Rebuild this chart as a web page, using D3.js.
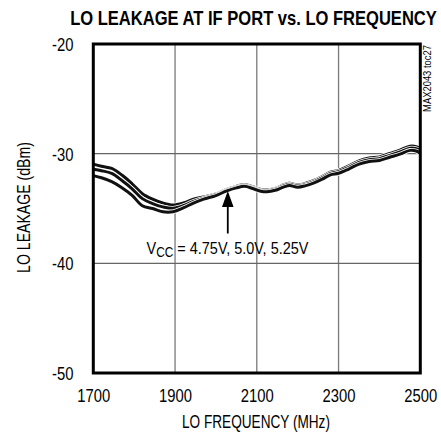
<!DOCTYPE html>
<html>
<head>
<meta charset="utf-8">
<script src="https://cdn.jsdelivr.net/npm/d3@7"></script>
<style>
  html, body { margin: 0; padding: 0; background: #fff; }
  svg { display: block; }
  text { font-family: "Liberation Sans", Arial, sans-serif; fill: #000; }
</style>
</head>
<body>
<svg id="chart" width="441" height="434"></svg>
<script>
// ---- data ----
const freq = [1700,1720,1745,1770,1795,1820,1845,1870,1895,1920,1945,1970,2000,2025,2050,2070,2090,2110,2125,2145,2165,2180,2200,2220,2240,2260,2280,2300,2325,2350,2375,2400,2425,2450,2475,2490,2500];
const vcc475 = [-30.95,-31.15,-31.35,-31.95,-32.75,-33.65,-34.15,-34.5,-34.68,-34.5,-34.15,-33.95,-33.68,-33.28,-32.98,-32.82,-33.02,-33.27,-33.32,-33.17,-32.86,-32.7,-32.85,-32.7,-32.44,-32.08,-31.68,-31.52,-31.11,-30.66,-30.4,-30.29,-29.98,-29.67,-29.32,-29.36,-29.55];
const vcc500 = [-31.42,-31.55,-31.8,-32.45,-33.2,-34.1,-34.55,-34.85,-34.98,-34.75,-34.35,-34.05,-33.75,-33.35,-33.05,-32.9,-33.1,-33.35,-33.4,-33.25,-32.95,-32.8,-32.95,-32.8,-32.55,-32.2,-31.8,-31.65,-31.25,-30.8,-30.55,-30.45,-30.15,-29.85,-29.5,-29.55,-29.75];
const vcc525 = [-32.0,-32.2,-32.55,-33.1,-33.8,-34.75,-35.0,-35.3,-35.3,-34.95,-34.5,-34.15,-33.82,-33.42,-33.12,-32.98,-33.18,-33.43,-33.48,-33.34,-33.05,-32.9,-33.06,-32.91,-32.67,-32.33,-31.93,-31.79,-31.4,-30.95,-30.71,-30.62,-30.33,-30.04,-29.7,-29.76,-29.96];
const series = [vcc475, vcc500, vcc525];
const xTicks = [1700, 1900, 2100, 2300, 2500];
const yTicks = [-20, -30, -40, -50];
const titleText = "LO LEAKAGE AT IF PORT vs. LO FREQUENCY";
const xLabel = "LO FREQUENCY (MHz)";
const yLabel = "LO LEAKAGE (dBm)";
const noteText = "MAX2043 toc27";

// ---- layout ----
const svg = d3.select("#chart");
const x = d3.scaleLinear().domain([1700, 2500]).range([93.3, 420.3]);
const y = d3.scaleLinear().domain([-50, -20]).range([373, 44]);
const NARROW = 0.8;

// fit a text horizontally to a width (condensed look), placed at (tx,ty) with optional rotation
function place(sel, tx, ty, width, rot) {
  sel.attr("x", 0).attr("y", 0);
  const len = sel.node().getComputedTextLength();
  const s = width ? width / len : NARROW;
  sel.attr("transform", `translate(${tx},${ty})` + (rot ? ` rotate(${rot})` : "") + ` scale(${s},1)`);
}

// grid
const grid = svg.append("g");
grid.selectAll("line.v").data(xTicks.slice(1, -1)).enter().append("line")
  .attr("x1", d => x(d)).attr("x2", d => x(d))
  .attr("y1", y(-20)).attr("y2", y(-50))
  .attr("stroke", "#7a7a7a").attr("stroke-width", 1.3);
grid.selectAll("line.h").data(yTicks.slice(1, -1)).enter().append("line")
  .attr("x1", x(1700)).attr("x2", x(2500))
  .attr("y1", d => y(d)).attr("y2", d => y(d))
  .attr("stroke", "#666").attr("stroke-width", 1.3);

// curves
const line = d3.line()
  .x((d, i) => x(freq[i]))
  .y(d => y(d))
  .curve(d3.curveCatmullRom.alpha(0.5));
const cg = svg.append("g");
series.forEach(s => {
  cg.append("path").attr("d", line(s)).attr("fill", "none")
    .attr("stroke", "#fff").attr("stroke-width", 4.6).attr("stroke-linejoin", "round");
  cg.append("path").attr("d", line(s)).attr("fill", "none")
    .attr("stroke", "#111").attr("stroke-width", 3).attr("stroke-linejoin", "round");
});

// frame
svg.append("rect")
  .attr("x", x(1700)).attr("y", y(-20))
  .attr("width", x(2500) - x(1700)).attr("height", y(-50) - y(-20))
  .attr("fill", "none").attr("stroke", "#000").attr("stroke-width", 3);

// axes (labels only, using d3 axes)
const xAxis = d3.axisBottom(x).tickValues(xTicks).tickSize(0).tickPadding(0).tickFormat(d => String(d));
const gx = svg.append("g").attr("transform", `translate(0, ${y(-50)})`).call(xAxis);
gx.select(".domain").remove();
gx.selectAll("text").attr("font-size", 18.5).attr("dy", null).attr("y", 0).attr("x", 0)
  .attr("transform", `translate(0,28.7) scale(${NARROW},1)`).style("font-family", null);

const yAxis = d3.axisLeft(y).tickValues(yTicks).tickSize(0).tickPadding(0).tickFormat(d => String(d));
const gy = svg.append("g").attr("transform", `translate(73.5, 0)`).call(yAxis);
gy.select(".domain").remove();
gy.selectAll("text").attr("font-size", 18.5).attr("dy", "0.36em").attr("x", 0)
  .attr("transform", `scale(${NARROW},1)`).style("font-family", null);

// title
place(svg.append("text").attr("text-anchor", "middle")
  .attr("font-size", 21).attr("font-weight", "bold").text(titleText), 253.5, 25, 367);

// axis titles
place(svg.append("text").attr("text-anchor", "middle").attr("font-size", 18.5).text(xLabel), 256, 428.3, 148);
place(svg.append("text").attr("text-anchor", "middle").attr("font-size", 17.5).text(yLabel), 29.5, 207.5, 131, -90);

// side note
place(svg.append("text").attr("text-anchor", "middle").attr("font-size", 11).attr("fill", "#333").text(noteText), 431, 78.5, 67, -90);

// annotation arrow
const ax = x(2029);
svg.append("line").attr("x1", ax).attr("x2", ax).attr("y1", 233.5).attr("y2", 204)
  .attr("stroke", "#000").attr("stroke-width", 1.8);
svg.append("path").attr("d", `M${ax},191 L${ax - 5.8},207 L${ax + 5.8},207 Z`).attr("fill", "#000");

const ann = svg.append("text").attr("font-size", 17);
ann.append("tspan").text("V");
ann.append("tspan").attr("font-size", 14).attr("dy", 3).text("CC");
ann.append("tspan").attr("dy", -3).text(" = 4.75V, 5.0V, 5.25V");
place(ann, 146.5, 254, 162);
</script>
</body>
</html>
